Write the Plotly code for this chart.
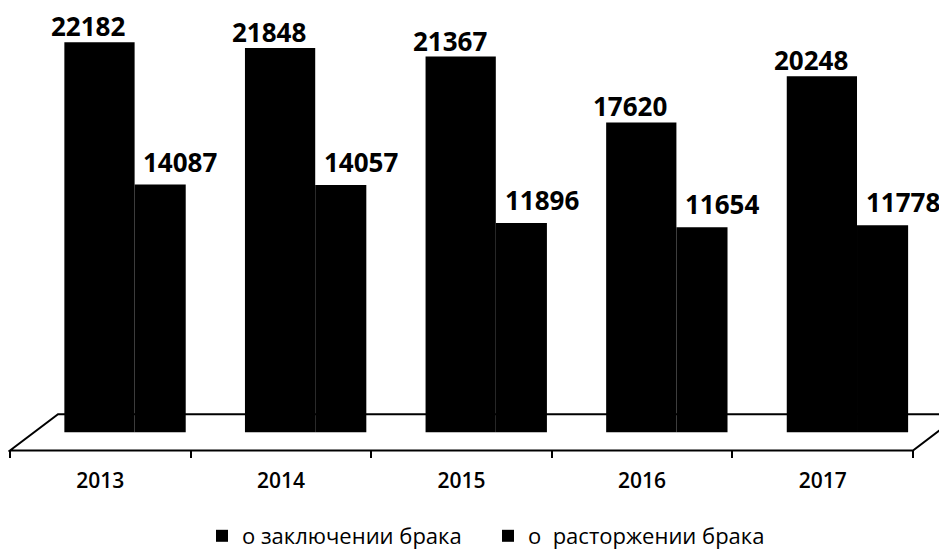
import plotly.graph_objects as go

years = ["2013", "2014", "2015", "2016", "2017"]
marriages = [22182, 21848, 21367, 17620, 20248]
divorces = [14087, 14057, 11896, 11654, 11778]
series_names = ["о заключении брака", "о\u00a0 расторжении брака"]

W, H = 947, 549
FONT = "Open Sans"
SY = 0.98  # measured vertical scale of the photographed page


def fx(s):  # target screen px -> figure px (page body margin shifts by 8)
    return s - 8


def fy(s):
    return (s - 8) / SY


def px(s):
    return fx(s) / W


def py(s):
    return 1 - fy(s) / H


fig = go.Figure()
fig.add_trace(go.Bar(x=years, y=marriages, name=series_names[0],
                     marker=dict(color="black", line=dict(width=0)),
                     offset=-0.199, width=0.389, hoverinfo="x+y"))
fig.add_trace(go.Bar(x=years, y=divorces, name=series_names[1],
                     marker=dict(color="black", line=dict(width=0)),
                     offset=0.190, width=0.283, hoverinfo="x+y"))

annotations = []
for i, v in enumerate(marriages):
    annotations.append(dict(x=i, y=v, xref="x", yref="y", text=str(v), showarrow=False,
                            xanchor="center", yanchor="bottom", xshift=-12, yshift=-4,
                            font=dict(family=FONT, size=26, color="black", weight="bold")))
for i, v in enumerate(divorces):
    annotations.append(dict(x=i, y=v, xref="x", yref="y", text=str(v), showarrow=False,
                            xanchor="center", yanchor="bottom", xshift=80, yshift=3,
                            font=dict(family=FONT, size=26, color="black", weight="bold")))

floor = (f"M {px(10)},{py(448)} L {px(58)},{py(412)} L {px(961)},{py(412)} "
         f"L {px(913)},{py(448)} Z")

cat_w = (fx(913) - fx(10)) / 5.0
x_lo = -0.5 - fx(10) / cat_w
x_hi = x_lo + W / cat_w

axis_y = fy(448)
zero_y = fy(430)
slope = (fy(430) - fy(42)) / 22182.0
y_hi = zero_y / slope
y_lo = -(axis_y - zero_y) / slope

fig.update_layout(
    width=W, height=H,
    margin=dict(l=0, r=0, t=0, b=0),
    paper_bgcolor="white", plot_bgcolor="white",
    barmode="overlay",
    showlegend=True,
    legend=dict(orientation="h", x=px(202), xanchor="left", y=1 - 536 / H, yanchor="middle",
                font=dict(family=FONT, size=22, color="black"),
                bgcolor="rgba(0,0,0,0)", borderwidth=0,
                entrywidth=241, entrywidthmode="pixels"),
    xaxis=dict(type="category", range=[x_lo, x_hi], domain=[0, 1],
               showgrid=False, zeroline=False, showline=False,
               ticks="outside", ticklen=7, tickwidth=2, tickcolor="black",
               tickson="boundaries", ticklabelstandoff=16,
               tickfont=dict(family=FONT, size=21, color="black", weight=600),
               automargin=False, fixedrange=True),
    yaxis=dict(range=[y_lo, y_hi], domain=[(H - axis_y) / H, 1], visible=False,
               showgrid=False, zeroline=False, automargin=False, fixedrange=True),
    shapes=[dict(type="path", xref="paper", yref="paper", path=floor,
                 line=dict(color="black", width=2), fillcolor="white", layer="below")],
    annotations=annotations,
)

fig.write_html("out.html")
